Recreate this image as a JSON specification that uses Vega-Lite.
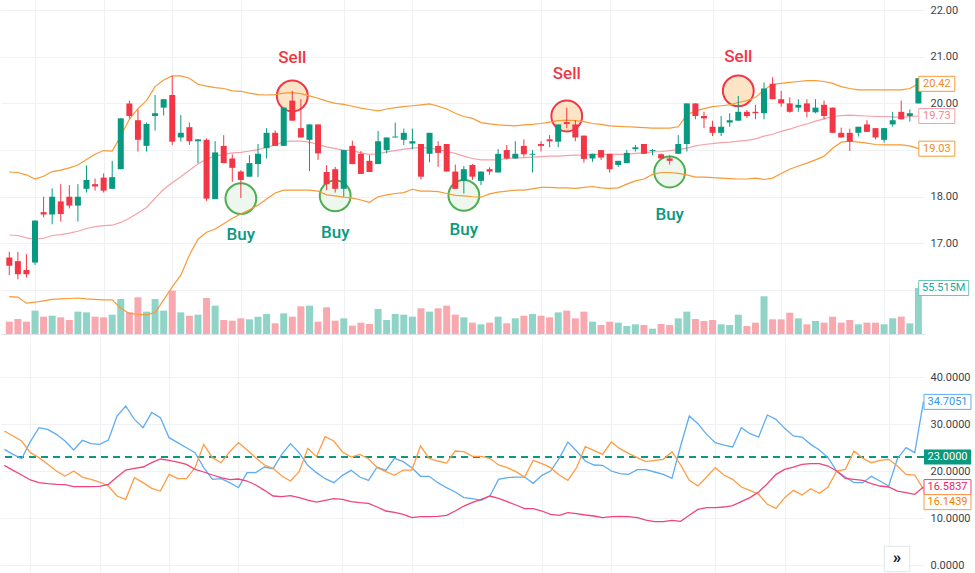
{
"$schema": "https://vega.github.io/schema/vega-lite/v6.json",
"padding": 0,
"background": "white",
"spacing": 3,
"datasets": {
"bars": [
{"i":0,"o":16.70,"h":16.82,"l":16.32,"c":16.52,"v":14.9,"ub":18.53,"mb":17.18,"lb":15.86,"pdi":24.61,"mdi":28.51,"adx":21.21},
{"i":1,"o":16.62,"h":16.82,"l":16.23,"c":16.34,"v":18.1,"ub":18.52,"mb":17.17,"lb":15.85,"pdi":23.55,"mdi":27.45,"adx":20.14},
{"i":2,"o":16.43,"h":16.77,"l":16.27,"c":16.34,"v":14.9,"ub":18.47,"mb":17.12,"lb":15.72,"pdi":22.62,"mdi":26.38,"adx":19.15},
{"i":3,"o":16.59,"h":17.49,"l":16.54,"c":17.49,"v":28.2,"ub":18.38,"mb":17.09,"lb":15.74,"pdi":26.24,"mdi":23.90,"adx":18.09},
{"i":4,"o":17.67,"h":18.00,"l":17.56,"c":17.62,"v":20.9,"ub":18.44,"mb":17.11,"lb":15.77,"pdi":29.22,"mdi":22.84,"adx":17.52},
{"i":5,"o":17.62,"h":18.18,"l":17.41,"c":18.00,"v":22.1,"ub":18.54,"mb":17.17,"lb":15.80,"pdi":28.87,"mdi":21.42,"adx":17.30},
{"i":6,"o":17.90,"h":18.27,"l":17.47,"c":17.63,"v":20.1,"ub":18.57,"mb":17.19,"lb":15.81,"pdi":27.80,"mdi":20.00,"adx":17.16},
{"i":7,"o":18.00,"h":18.25,"l":17.75,"c":17.81,"v":16.9,"ub":18.62,"mb":17.22,"lb":15.82,"pdi":26.38,"mdi":18.94,"adx":17.09},
{"i":8,"o":17.81,"h":18.27,"l":17.47,"c":18.00,"v":27.0,"ub":18.68,"mb":17.26,"lb":15.83,"pdi":24.47,"mdi":20.00,"adx":16.67},
{"i":9,"o":18.17,"h":18.67,"l":18.09,"c":18.36,"v":26.1,"ub":18.80,"mb":17.32,"lb":15.81,"pdi":26.52,"mdi":18.72,"adx":16.67},
{"i":10,"o":18.27,"h":18.39,"l":18.13,"c":18.22,"v":20.9,"ub":18.91,"mb":17.36,"lb":15.80,"pdi":25.82,"mdi":18.23,"adx":16.67},
{"i":11,"o":18.41,"h":18.50,"l":18.09,"c":18.13,"v":20.1,"ub":18.99,"mb":17.38,"lb":15.79,"pdi":25.67,"mdi":17.66,"adx":16.74},
{"i":12,"o":18.17,"h":18.77,"l":18.17,"c":18.42,"v":23.3,"ub":18.98,"mb":17.39,"lb":15.79,"pdi":26.60,"mdi":16.81,"adx":17.16},
{"i":13,"o":18.59,"h":19.68,"l":18.59,"c":19.68,"v":42.2,"ub":19.30,"mb":17.45,"lb":15.61,"pdi":31.70,"mdi":14.68,"adx":18.72},
{"i":14,"o":20.00,"h":20.06,"l":19.68,"c":19.73,"v":26.1,"ub":19.66,"mb":17.54,"lb":15.50,"pdi":33.83,"mdi":13.97,"adx":20.21},
{"i":15,"o":19.64,"h":19.87,"l":18.97,"c":19.22,"v":44.3,"ub":19.89,"mb":17.65,"lb":15.48,"pdi":30.99,"mdi":18.58,"adx":20.57},
{"i":16,"o":19.09,"h":19.59,"l":18.97,"c":19.56,"v":27.0,"ub":20.06,"mb":17.77,"lb":15.47,"pdi":29.22,"mdi":17.52,"adx":20.85},
{"i":17,"o":19.73,"h":20.18,"l":19.42,"c":19.79,"v":42.2,"ub":20.36,"mb":17.97,"lb":15.52,"pdi":32.48,"mdi":16.31,"adx":21.77},
{"i":18,"o":19.91,"h":20.09,"l":19.74,"c":20.09,"v":28.2,"ub":20.50,"mb":18.16,"lb":15.79,"pdi":31.35,"mdi":15.74,"adx":22.55},
{"i":19,"o":20.18,"h":20.59,"l":19.11,"c":19.18,"v":52.3,"ub":20.59,"mb":18.30,"lb":16.07,"pdi":27.09,"mdi":19.29,"adx":22.27},
{"i":20,"o":19.27,"h":19.75,"l":19.18,"c":19.37,"v":26.1,"ub":20.59,"mb":18.43,"lb":16.32,"pdi":26.03,"mdi":18.37,"adx":21.91},
{"i":21,"o":19.49,"h":19.59,"l":19.11,"c":19.19,"v":22.1,"ub":20.54,"mb":18.57,"lb":16.75,"pdi":24.96,"mdi":18.37,"adx":21.42},
{"i":22,"o":19.19,"h":19.23,"l":18.72,"c":19.23,"v":23.3,"ub":20.41,"mb":18.70,"lb":17.09,"pdi":23.90,"mdi":20.71,"adx":20.35},
{"i":23,"o":19.22,"h":19.25,"l":17.91,"c":17.96,"v":43.4,"ub":20.37,"mb":18.81,"lb":17.24,"pdi":20.71,"mdi":25.67,"adx":19.79},
{"i":24,"o":17.95,"h":19.19,"l":17.95,"c":18.95,"v":34.2,"ub":20.34,"mb":18.87,"lb":17.31,"pdi":18.23,"mdi":22.84,"adx":19.15},
{"i":25,"o":19.09,"h":19.32,"l":18.72,"c":18.72,"v":16.9,"ub":20.32,"mb":18.91,"lb":17.42,"pdi":18.37,"mdi":21.77,"adx":18.58},
{"i":26,"o":18.82,"h":18.91,"l":18.32,"c":18.62,"v":16.1,"ub":20.27,"mb":18.94,"lb":17.54,"pdi":17.52,"mdi":24.11,"adx":18.16},
{"i":27,"o":18.54,"h":18.57,"l":17.97,"c":18.36,"v":18.9,"ub":20.26,"mb":18.95,"lb":17.63,"pdi":16.45,"mdi":26.03,"adx":18.30},
{"i":28,"o":18.43,"h":18.89,"l":18.42,"c":18.72,"v":17.7,"ub":20.22,"mb":18.98,"lb":17.72,"pdi":19.65,"mdi":24.47,"adx":17.87},
{"i":29,"o":18.70,"h":19.13,"l":18.42,"c":18.92,"v":20.9,"ub":20.19,"mb":19.01,"lb":17.82,"pdi":19.65,"mdi":22.84,"adx":17.02},
{"i":30,"o":19.04,"h":19.47,"l":18.82,"c":19.37,"v":24.1,"ub":20.18,"mb":19.06,"lb":17.95,"pdi":20.85,"mdi":21.28,"adx":15.89},
{"i":31,"o":19.37,"h":19.42,"l":19.09,"c":19.09,"v":12.9,"ub":20.19,"mb":19.11,"lb":18.08,"pdi":20.50,"mdi":20.57,"adx":14.68},
{"i":32,"o":19.09,"h":19.91,"l":19.09,"c":19.91,"v":24.9,"ub":20.22,"mb":19.18,"lb":18.14,"pdi":23.55,"mdi":18.94,"adx":14.54},
{"i":33,"o":20.06,"h":20.27,"l":19.63,"c":19.63,"v":20.9,"ub":20.23,"mb":19.19,"lb":18.14,"pdi":25.82,"mdi":17.87,"adx":14.75},
{"i":34,"o":19.47,"h":20.09,"l":19.27,"c":19.27,"v":33.4,"ub":20.21,"mb":19.19,"lb":18.14,"pdi":23.90,"mdi":19.86,"adx":14.33},
{"i":35,"o":19.22,"h":19.55,"l":18.55,"c":19.55,"v":34.2,"ub":20.16,"mb":19.17,"lb":18.14,"pdi":21.21,"mdi":24.82,"adx":13.83},
{"i":36,"o":19.55,"h":19.55,"l":18.79,"c":18.93,"v":14.9,"ub":20.11,"mb":19.12,"lb":18.12,"pdi":19.65,"mdi":23.05,"adx":13.40},
{"i":37,"o":18.53,"h":18.68,"l":18.14,"c":18.27,"v":32.2,"ub":20.05,"mb":19.07,"lb":18.04,"pdi":18.37,"mdi":27.30,"adx":13.76},
{"i":38,"o":18.59,"h":18.64,"l":18.09,"c":18.17,"v":16.1,"ub":20.00,"mb":19.03,"lb":18.02,"pdi":17.52,"mdi":26.38,"adx":14.11},
{"i":39,"o":18.17,"h":19.00,"l":18.00,"c":19.00,"v":18.9,"ub":19.98,"mb":19.00,"lb":17.99,"pdi":19.08,"mdi":24.04,"adx":13.97},
{"i":40,"o":19.09,"h":19.20,"l":18.70,"c":18.70,"v":10.1,"ub":19.94,"mb":18.99,"lb":17.97,"pdi":20.14,"mdi":22.98,"adx":13.48},
{"i":41,"o":18.92,"h":18.98,"l":18.49,"c":18.49,"v":13.7,"ub":19.90,"mb":18.94,"lb":17.93,"pdi":18.72,"mdi":23.55,"adx":13.26},
{"i":42,"o":18.77,"h":18.89,"l":18.53,"c":18.53,"v":12.1,"ub":19.87,"mb":18.91,"lb":17.88,"pdi":18.01,"mdi":22.62,"adx":13.12},
{"i":43,"o":18.70,"h":19.41,"l":18.70,"c":19.19,"v":30.2,"ub":19.84,"mb":18.92,"lb":18.00,"pdi":20.85,"mdi":20.71,"adx":12.34},
{"i":44,"o":19.00,"h":19.27,"l":18.93,"c":19.27,"v":16.9,"ub":19.88,"mb":18.96,"lb":18.04,"pdi":20.14,"mdi":19.86,"adx":11.49},
{"i":45,"o":19.27,"h":19.59,"l":19.27,"c":19.29,"v":24.1,"ub":19.91,"mb":18.99,"lb":18.07,"pdi":22.70,"mdi":19.08,"adx":11.21},
{"i":46,"o":19.22,"h":19.46,"l":19.11,"c":19.37,"v":23.3,"ub":19.93,"mb":19.02,"lb":18.09,"pdi":21.99,"mdi":20.21,"adx":10.78},
{"i":47,"o":19.14,"h":19.46,"l":19.02,"c":19.19,"v":20.9,"ub":19.95,"mb":19.04,"lb":18.16,"pdi":20.71,"mdi":20.21,"adx":10.07},
{"i":48,"o":19.13,"h":19.13,"l":18.37,"c":18.43,"v":31.0,"ub":19.97,"mb":19.06,"lb":18.12,"pdi":18.87,"mdi":25.32,"adx":10.28},
{"i":49,"o":18.92,"h":19.37,"l":18.74,"c":19.37,"v":27.0,"ub":19.99,"mb":19.04,"lb":18.12,"pdi":18.87,"mdi":22.70,"adx":10.28},
{"i":50,"o":19.09,"h":19.19,"l":18.64,"c":18.94,"v":31.0,"ub":19.94,"mb":19.01,"lb":18.11,"pdi":17.52,"mdi":22.13,"adx":10.35},
{"i":51,"o":19.13,"h":19.13,"l":18.54,"c":18.54,"v":34.2,"ub":19.88,"mb":18.97,"lb":18.07,"pdi":16.45,"mdi":21.70,"adx":10.57},
{"i":52,"o":18.54,"h":18.69,"l":18.17,"c":18.17,"v":23.3,"ub":19.79,"mb":18.93,"lb":18.03,"pdi":15.53,"mdi":24.26,"adx":11.49},
{"i":53,"o":18.34,"h":18.66,"l":18.07,"c":18.59,"v":20.1,"ub":19.72,"mb":18.87,"lb":18.02,"pdi":14.33,"mdi":24.11,"adx":12.55},
{"i":54,"o":18.68,"h":18.70,"l":18.36,"c":18.43,"v":13.7,"ub":19.68,"mb":18.82,"lb":18.00,"pdi":14.11,"mdi":23.12,"adx":13.33},
{"i":55,"o":18.34,"h":18.54,"l":18.25,"c":18.54,"v":11.7,"ub":19.59,"mb":18.79,"lb":17.99,"pdi":13.76,"mdi":23.12,"adx":13.97},
{"i":56,"o":18.59,"h":18.63,"l":18.47,"c":18.54,"v":13.7,"ub":19.56,"mb":18.79,"lb":18.06,"pdi":14.68,"mdi":22.70,"adx":14.68},
{"i":57,"o":18.52,"h":19.02,"l":18.52,"c":18.92,"v":20.9,"ub":19.54,"mb":18.79,"lb":18.10,"pdi":18.23,"mdi":21.28,"adx":14.18},
{"i":58,"o":19.00,"h":19.11,"l":18.80,"c":18.82,"v":12.9,"ub":19.53,"mb":18.82,"lb":18.12,"pdi":18.58,"mdi":20.71,"adx":13.48},
{"i":59,"o":18.82,"h":19.19,"l":18.82,"c":18.92,"v":18.9,"ub":19.52,"mb":18.83,"lb":18.14,"pdi":18.72,"mdi":19.86,"adx":12.77},
{"i":60,"o":19.09,"h":19.23,"l":18.86,"c":18.91,"v":22.1,"ub":19.54,"mb":18.84,"lb":18.14,"pdi":18.72,"mdi":18.72,"adx":11.99},
{"i":61,"o":18.90,"h":19.00,"l":18.52,"c":18.92,"v":24.1,"ub":19.55,"mb":18.85,"lb":18.17,"pdi":17.38,"mdi":22.27,"adx":11.99},
{"i":62,"o":19.13,"h":19.19,"l":18.97,"c":19.09,"v":22.1,"ub":19.57,"mb":18.86,"lb":18.20,"pdi":19.08,"mdi":21.56,"adx":11.49},
{"i":63,"o":19.23,"h":19.32,"l":19.06,"c":19.19,"v":20.1,"ub":19.60,"mb":18.87,"lb":18.20,"pdi":20.00,"mdi":20.71,"adx":10.78},
{"i":64,"o":19.18,"h":19.55,"l":19.06,"c":19.55,"v":26.1,"ub":19.63,"mb":18.87,"lb":18.19,"pdi":22.70,"mdi":19.15,"adx":10.57},
{"i":65,"o":19.60,"h":19.91,"l":19.47,"c":19.56,"v":28.2,"ub":19.64,"mb":18.88,"lb":18.19,"pdi":26.17,"mdi":18.01,"adx":11.13},
{"i":66,"o":19.55,"h":19.64,"l":19.19,"c":19.27,"v":18.9,"ub":19.63,"mb":18.89,"lb":18.18,"pdi":24.26,"mdi":20.71,"adx":10.92},
{"i":67,"o":19.31,"h":19.31,"l":18.73,"c":18.81,"v":27.0,"ub":19.61,"mb":18.89,"lb":18.20,"pdi":22.13,"mdi":25.18,"adx":10.64},
{"i":68,"o":18.82,"h":18.92,"l":18.75,"c":18.92,"v":14.9,"ub":19.57,"mb":18.91,"lb":18.22,"pdi":21.28,"mdi":24.40,"adx":10.43},
{"i":69,"o":19.00,"h":19.00,"l":18.79,"c":18.84,"v":10.9,"ub":19.55,"mb":18.91,"lb":18.19,"pdi":21.21,"mdi":23.55,"adx":10.07},
{"i":70,"o":18.92,"h":18.92,"l":18.52,"c":18.59,"v":14.9,"ub":19.52,"mb":18.91,"lb":18.18,"pdi":20.00,"mdi":26.17,"adx":10.28},
{"i":71,"o":18.68,"h":18.77,"l":18.64,"c":18.77,"v":13.7,"ub":19.51,"mb":18.91,"lb":18.19,"pdi":19.43,"mdi":24.75,"adx":10.35},
{"i":72,"o":18.72,"h":19.00,"l":18.72,"c":18.94,"v":9.7,"ub":19.50,"mb":18.91,"lb":18.27,"pdi":19.29,"mdi":23.76,"adx":10.28},
{"i":73,"o":19.02,"h":19.11,"l":18.97,"c":19.06,"v":11.7,"ub":19.49,"mb":18.93,"lb":18.34,"pdi":20.28,"mdi":22.84,"adx":10.07},
{"i":74,"o":19.13,"h":19.13,"l":18.92,"c":18.92,"v":10.9,"ub":19.48,"mb":18.94,"lb":18.38,"pdi":20.28,"mdi":21.99,"adx":9.57},
{"i":75,"o":18.98,"h":19.02,"l":18.89,"c":19.00,"v":6.4,"ub":19.47,"mb":18.96,"lb":18.48,"pdi":19.79,"mdi":22.27,"adx":9.22},
{"i":76,"o":18.91,"h":18.93,"l":18.80,"c":18.82,"v":12.1,"ub":19.47,"mb":18.97,"lb":18.52,"pdi":19.29,"mdi":22.48,"adx":9.22},
{"i":77,"o":18.82,"h":18.89,"l":18.69,"c":18.77,"v":10.9,"ub":19.47,"mb":18.99,"lb":18.52,"pdi":18.44,"mdi":24.11,"adx":9.50},
{"i":78,"o":18.92,"h":19.32,"l":18.92,"c":19.13,"v":18.9,"ub":19.50,"mb":19.01,"lb":18.50,"pdi":25.32,"mdi":21.28,"adx":9.29},
{"i":79,"o":19.13,"h":20.00,"l":18.97,"c":20.00,"v":27.0,"ub":19.75,"mb":19.04,"lb":18.47,"pdi":31.70,"mdi":18.01,"adx":10.57},
{"i":80,"o":20.00,"h":20.00,"l":19.66,"c":19.73,"v":18.1,"ub":19.84,"mb":19.09,"lb":18.42,"pdi":30.07,"mdi":16.81,"adx":11.84},
{"i":81,"o":19.73,"h":19.82,"l":19.47,"c":19.68,"v":15.7,"ub":19.89,"mb":19.12,"lb":18.42,"pdi":27.80,"mdi":18.72,"adx":12.20},
{"i":82,"o":19.50,"h":19.63,"l":19.30,"c":19.37,"v":16.9,"ub":19.93,"mb":19.14,"lb":18.41,"pdi":26.03,"mdi":20.71,"adx":12.20},
{"i":83,"o":19.37,"h":19.73,"l":19.30,"c":19.50,"v":11.7,"ub":19.95,"mb":19.16,"lb":18.40,"pdi":25.53,"mdi":19.15,"adx":12.34},
{"i":84,"o":19.59,"h":19.79,"l":19.50,"c":19.64,"v":10.9,"ub":19.97,"mb":19.17,"lb":18.39,"pdi":25.11,"mdi":18.23,"adx":12.62},
{"i":85,"o":19.63,"h":20.16,"l":19.63,"c":19.82,"v":23.3,"ub":20.02,"mb":19.19,"lb":18.38,"pdi":29.22,"mdi":16.60,"adx":13.48},
{"i":86,"o":19.82,"h":19.86,"l":19.69,"c":19.73,"v":9.7,"ub":20.06,"mb":19.21,"lb":18.38,"pdi":27.94,"mdi":15.89,"adx":14.33},
{"i":87,"o":19.82,"h":19.97,"l":19.66,"c":19.79,"v":13.7,"ub":20.13,"mb":19.24,"lb":18.40,"pdi":27.23,"mdi":15.04,"adx":15.53},
{"i":88,"o":19.79,"h":20.45,"l":19.66,"c":20.32,"v":45.5,"ub":20.29,"mb":19.30,"lb":18.37,"pdi":31.91,"mdi":12.91,"adx":17.30},
{"i":89,"o":20.42,"h":20.56,"l":20.09,"c":20.09,"v":17.7,"ub":20.41,"mb":19.34,"lb":18.40,"pdi":30.99,"mdi":12.06,"adx":19.29},
{"i":90,"o":20.09,"h":20.27,"l":19.93,"c":20.00,"v":17.7,"ub":20.43,"mb":19.40,"lb":18.50,"pdi":29.08,"mdi":14.33,"adx":20.35},
{"i":91,"o":20.00,"h":20.13,"l":19.80,"c":19.82,"v":25.7,"ub":20.45,"mb":19.45,"lb":18.59,"pdi":27.45,"mdi":15.89,"adx":20.85},
{"i":92,"o":19.91,"h":20.09,"l":19.82,"c":19.97,"v":18.9,"ub":20.47,"mb":19.51,"lb":18.66,"pdi":27.23,"mdi":14.89,"adx":21.42},
{"i":93,"o":20.00,"h":20.09,"l":19.70,"c":19.82,"v":11.7,"ub":20.49,"mb":19.56,"lb":18.72,"pdi":25.67,"mdi":16.24,"adx":21.56},
{"i":94,"o":19.81,"h":20.09,"l":19.79,"c":19.91,"v":15.7,"ub":20.49,"mb":19.62,"lb":18.79,"pdi":24.47,"mdi":15.25,"adx":21.56},
{"i":95,"o":19.97,"h":20.06,"l":19.66,"c":19.73,"v":13.7,"ub":20.47,"mb":19.67,"lb":18.87,"pdi":22.84,"mdi":16.60,"adx":21.06},
{"i":96,"o":19.91,"h":19.91,"l":19.37,"c":19.37,"v":20.9,"ub":20.43,"mb":19.72,"lb":19.04,"pdi":20.00,"mdi":20.00,"adx":20.00},
{"i":97,"o":19.37,"h":19.48,"l":19.27,"c":19.27,"v":13.7,"ub":20.36,"mb":19.74,"lb":19.17,"pdi":18.72,"mdi":20.35,"adx":18.44},
{"i":98,"o":19.37,"h":19.46,"l":18.98,"c":19.18,"v":16.9,"ub":20.32,"mb":19.75,"lb":19.19,"pdi":17.52,"mdi":24.26,"adx":18.23},
{"i":99,"o":19.37,"h":19.50,"l":19.29,"c":19.50,"v":11.7,"ub":20.29,"mb":19.74,"lb":19.17,"pdi":17.52,"mdi":22.70,"adx":18.01},
{"i":100,"o":19.55,"h":19.64,"l":19.39,"c":19.39,"v":13.7,"ub":20.29,"mb":19.73,"lb":19.15,"pdi":18.87,"mdi":21.77,"adx":17.30},
{"i":101,"o":19.47,"h":19.47,"l":19.23,"c":19.27,"v":13.7,"ub":20.29,"mb":19.72,"lb":19.12,"pdi":17.87,"mdi":22.27,"adx":16.81},
{"i":102,"o":19.22,"h":19.47,"l":19.16,"c":19.47,"v":11.7,"ub":20.29,"mb":19.72,"lb":19.11,"pdi":16.81,"mdi":22.48,"adx":16.60},
{"i":103,"o":19.55,"h":19.82,"l":19.50,"c":19.64,"v":18.9,"ub":20.29,"mb":19.71,"lb":19.11,"pdi":22.62,"mdi":21.06,"adx":15.74},
{"i":104,"o":19.82,"h":20.06,"l":19.66,"c":19.66,"v":20.9,"ub":20.29,"mb":19.70,"lb":19.11,"pdi":24.96,"mdi":19.29,"adx":15.39},
{"i":105,"o":19.73,"h":19.87,"l":19.61,"c":19.79,"v":12.9,"ub":20.32,"mb":19.72,"lb":19.09,"pdi":23.90,"mdi":19.15,"adx":15.04},
{"i":106,"o":20.00,"h":20.54,"l":20.00,"c":20.54,"v":55.515,"ub":20.42,"mb":19.73,"lb":19.03,"pdi":34.7051,"mdi":16.1439,"adx":16.5837}
],
"marks": [
{"t":"Sell","i":33,"p":20.16,"tp":20.97},
{"t":"Sell","i":65,"p":19.73,"tp":20.64},
{"t":"Sell","i":85,"p":20.27,"tp":21.00},
{"t":"Buy","i":27,"p":17.96,"tp":17.18},
{"t":"Buy","i":38,"p":18.02,"tp":17.23},
{"t":"Buy","i":53,"p":18.03,"tp":17.28},
{"t":"Buy","i":77,"p":18.53,"tp":17.60}
],
"plabels": [
{"s":"upper","p":20.42},
{"s":"middle","p":19.73},
{"s":"lower","p":19.03}
],
"vlabels": [{"v":55.515,"txt":"55.515M"}],
"dlabels": [
{"s":"pdi","v":34.7051},
{"s":"adx","v":16.5837},
{"s":"mdi","v":16.1439}
],
"levels": [{"level":23}]
},
"vconcat": [
{
"width": 923,
"height": 334,
"data": {"name": "bars"},
"layer": [
{
"layer": [
{
"mark": {"type": "bar", "width": 7, "orient": "vertical"},
"encoding": {
"x": {"field": "i", "type": "quantitative", "title": null, "scale": {"domain": [-0.384, 106.07], "nice": false, "zero": false}, "axis": {"values": [3,11,19,27,39,47,62,70,82,90,102], "grid": true, "labels": false, "domain": true, "domainColor": "#e0e3eb", "domainWidth": 1, "orient": "bottom"}},
"y": {"field": "v", "type": "quantitative", "scale": {"domain": [0, 403], "nice": false}, "axis": null},
"color": {"condition": {"test": "datum.c >= datum.o", "value": "#8fd4c6"}, "value": "#f8a9b0"}
}
},
{
"data": {"name": "vlabels"},
"mark": {"type": "point", "shape": "M-1,-0.3H1V0.3H-1Z", "size": 2500, "filled": true, "fill": "white", "stroke": "#6cc7b6", "strokeWidth": 1, "opacity": 1},
"encoding": {
"x": {"datum": 108.95, "type": "quantitative", "title": null, "scale": {"domain": [-0.384, 106.07], "nice": false, "zero": false}},
"y": {"field": "v", "type": "quantitative", "scale": {"domain": [0, 403], "nice": false}, "axis": null}
}
},
{
"data": {"name": "vlabels"},
"mark": {"type": "text", "font": "Roboto", "fontSize": 11, "color": "#26a69a", "align": "center", "baseline": "middle"},
"encoding": {
"x": {"datum": 108.95, "type": "quantitative", "title": null, "scale": {"domain": [-0.384, 106.07], "nice": false, "zero": false}},
"y": {"field": "v", "type": "quantitative", "scale": {"domain": [0, 403], "nice": false}, "axis": null},
"text": {"field": "txt"}
}
}
]
},
{
"layer": [
{
"data": {"name": "marks"},
"mark": {"type": "point", "shape": "circle", "size": 950, "filled": true, "strokeWidth": 2, "opacity": 1},
"encoding": {
"x": {"field": "i", "type": "quantitative", "title": null, "scale": {"domain": [-0.384, 106.07], "nice": false, "zero": false}},
"y": {"field": "p", "type": "quantitative", "title": null, "scale": {"domain": [15.059, 22.216], "nice": false, "zero": false}, "axis": {"orient": "right", "values": [16,17,18,19,20,21,22], "grid": true, "labelExpr": "datum.value == 19 || datum.value == 16 ? '' : format(datum.value, '.2f')", "labelPadding": 6}},
"fill": {"condition": {"test": "datum.t == 'Sell'", "value": "#fde4c6"}, "value": "#eef7ee"},
"stroke": {"condition": {"test": "datum.t == 'Sell'", "value": "#f23645"}, "value": "#4caf50"}
}
},
{
"mark": {"type": "line", "color": "#f89a35", "strokeWidth": 1.2},
"encoding": {
"x": {"field": "i", "type": "quantitative", "title": null, "scale": {"domain": [-0.384, 106.07], "nice": false, "zero": false}},
"y": {"field": "ub", "type": "quantitative", "title": null, "scale": {"domain": [15.059, 22.216], "nice": false, "zero": false}}
}
},
{
"mark": {"type": "line", "color": "#f89a35", "strokeWidth": 1.2},
"encoding": {
"x": {"field": "i", "type": "quantitative", "title": null, "scale": {"domain": [-0.384, 106.07], "nice": false, "zero": false}},
"y": {"field": "lb", "type": "quantitative", "title": null, "scale": {"domain": [15.059, 22.216], "nice": false, "zero": false}}
}
},
{
"mark": {"type": "line", "color": "#f7a1a6", "strokeWidth": 1.2},
"encoding": {
"x": {"field": "i", "type": "quantitative", "title": null, "scale": {"domain": [-0.384, 106.07], "nice": false, "zero": false}},
"y": {"field": "mb", "type": "quantitative", "title": null, "scale": {"domain": [15.059, 22.216], "nice": false, "zero": false}}
}
},
{
"mark": {"type": "rule", "strokeWidth": 1, "clip": true},
"encoding": {
"x": {"field": "i", "type": "quantitative", "title": null, "scale": {"domain": [-0.384, 106.07], "nice": false, "zero": false}},
"y": {"field": "l", "type": "quantitative", "title": null, "scale": {"domain": [15.059, 22.216], "nice": false, "zero": false}},
"y2": {"field": "h"},
"color": {"condition": {"test": "datum.c >= datum.o", "value": "#089981"}, "value": "#f23645"}
}
},
{
"mark": {"type": "bar", "width": 6, "orient": "vertical", "clip": true},
"encoding": {
"x": {"field": "i", "type": "quantitative", "title": null, "scale": {"domain": [-0.384, 106.07], "nice": false, "zero": false}},
"y": {"field": "o", "type": "quantitative", "title": null, "scale": {"domain": [15.059, 22.216], "nice": false, "zero": false}},
"y2": {"field": "c"},
"color": {"condition": {"test": "datum.c >= datum.o", "value": "#089981"}, "value": "#f23645"}
}
},
{
"data": {"name": "marks"},
"mark": {"type": "text", "font": "Roboto", "fontSize": 17, "fontWeight": 500, "align": "center", "baseline": "middle"},
"encoding": {
"x": {"field": "i", "type": "quantitative", "title": null, "scale": {"domain": [-0.384, 106.07], "nice": false, "zero": false}},
"y": {"field": "tp", "type": "quantitative", "title": null, "scale": {"domain": [15.059, 22.216], "nice": false, "zero": false}},
"text": {"field": "t"},
"color": {"condition": {"test": "datum.t == 'Sell'", "value": "#f23645"}, "value": "#089981"}
}
},
{
"data": {"name": "plabels"},
"mark": {"type": "point", "shape": "M-1,-0.4167H1V0.4167H-1Z", "size": 1296, "filled": true, "fill": "white", "strokeWidth": 1, "opacity": 1},
"encoding": {
"x": {"datum": 108.15, "type": "quantitative", "title": null, "scale": {"domain": [-0.384, 106.07], "nice": false, "zero": false}},
"y": {"field": "p", "type": "quantitative", "title": null, "scale": {"domain": [15.059, 22.216], "nice": false, "zero": false}},
"stroke": {"field": "s", "type": "nominal", "scale": {"domain": ["upper","middle","lower"], "range": ["#f89a35","#f7a1a6","#f89a35"]}, "legend": null}
}
},
{
"data": {"name": "plabels"},
"mark": {"type": "text", "font": "Roboto", "fontSize": 11, "align": "center", "baseline": "middle"},
"encoding": {
"x": {"datum": 108.15, "type": "quantitative", "title": null, "scale": {"domain": [-0.384, 106.07], "nice": false, "zero": false}},
"y": {"field": "p", "type": "quantitative", "title": null, "scale": {"domain": [15.059, 22.216], "nice": false, "zero": false}},
"text": {"field": "p", "format": ".2f"},
"color": {"field": "s", "type": "nominal", "scale": {"domain": ["upper","middle","lower"], "range": ["#f08a1f","#f2868d","#f08a1f"]}, "legend": null}
}
}
]
}
],
"resolve": {"scale": {"y": "independent", "color": "independent", "stroke": "independent"}}
},
{
"width": 923,
"height": 237,
"data": {"name": "bars"},
"layer": [
{
"data": {"name": "levels"},
"mark": {"type": "rule", "color": "#089981", "strokeWidth": 2, "strokeDash": [7, 5]},
"encoding": {
"y": {"field": "level", "type": "quantitative", "title": null, "scale": {"domain": [-1.91, 48.51], "nice": false, "zero": false}, "axis": {"orient": "right", "values": [0,10,20,30,40], "format": ".4f", "grid": true, "labelPadding": 6}}
}
},
{
"mark": {"type": "line", "color": "#5eadf2", "strokeWidth": 1.3},
"encoding": {
"x": {"field": "i", "type": "quantitative", "title": null, "scale": {"domain": [-0.384, 106.07], "nice": false, "zero": false}, "axis": {"values": [3,11,19,27,39,47,62,70,82,90,102], "grid": true, "labels": false, "domain": false}},
"y": {"field": "pdi", "type": "quantitative", "title": null, "scale": {"domain": [-1.91, 48.51], "nice": false, "zero": false}}
}
},
{
"mark": {"type": "line", "color": "#ff9c45", "strokeWidth": 1.3},
"encoding": {
"x": {"field": "i", "type": "quantitative", "title": null, "scale": {"domain": [-0.384, 106.07], "nice": false, "zero": false}},
"y": {"field": "mdi", "type": "quantitative", "title": null, "scale": {"domain": [-1.91, 48.51], "nice": false, "zero": false}}
}
},
{
"mark": {"type": "line", "color": "#f0457a", "strokeWidth": 1.3},
"encoding": {
"x": {"field": "i", "type": "quantitative", "title": null, "scale": {"domain": [-0.384, 106.07], "nice": false, "zero": false}},
"y": {"field": "adx", "type": "quantitative", "title": null, "scale": {"domain": [-1.91, 48.51], "nice": false, "zero": false}}
}
},
{
"data": {"name": "levels"},
"mark": {"type": "point", "shape": "M-1,-0.319H1V0.319H-1Z", "size": 2209, "filled": true, "fill": "#089981", "opacity": 1},
"encoding": {
"x": {"datum": 108.78, "type": "quantitative", "title": null, "scale": {"domain": [-0.384, 106.07], "nice": false, "zero": false}},
"y": {"field": "level", "type": "quantitative", "title": null, "scale": {"domain": [-1.91, 48.51], "nice": false, "zero": false}}
}
},
{
"data": {"name": "levels"},
"mark": {"type": "text", "font": "Roboto", "fontSize": 11, "color": "white", "align": "center", "baseline": "middle"},
"encoding": {
"x": {"datum": 108.78, "type": "quantitative", "title": null, "scale": {"domain": [-0.384, 106.07], "nice": false, "zero": false}},
"y": {"field": "level", "type": "quantitative", "title": null, "scale": {"domain": [-1.91, 48.51], "nice": false, "zero": false}},
"text": {"field": "level", "format": ".4f"}
}
},
{
"data": {"name": "dlabels"},
"transform": [{"filter": "datum.s != 'mdi'"}],
"mark": {"type": "point", "shape": "M-1,-0.319H1V0.319H-1Z", "size": 2209, "filled": true, "fill": "white", "strokeWidth": 1, "opacity": 1},
"encoding": {
"x": {"datum": 108.78, "type": "quantitative", "title": null, "scale": {"domain": [-0.384, 106.07], "nice": false, "zero": false}},
"y": {"field": "v", "type": "quantitative", "title": null, "scale": {"domain": [-1.91, 48.51], "nice": false, "zero": false}},
"stroke": {"field": "s", "type": "nominal", "scale": {"domain": ["pdi","adx","mdi"], "range": ["#5eadf2","#f0457a","#ff9c45"]}, "legend": null}
}
},
{
"data": {"name": "dlabels"},
"transform": [{"filter": "datum.s != 'mdi'"}],
"mark": {"type": "text", "font": "Roboto", "fontSize": 11, "align": "center", "baseline": "middle"},
"encoding": {
"x": {"datum": 108.78, "type": "quantitative", "title": null, "scale": {"domain": [-0.384, 106.07], "nice": false, "zero": false}},
"y": {"field": "v", "type": "quantitative", "title": null, "scale": {"domain": [-1.91, 48.51], "nice": false, "zero": false}},
"text": {"field": "v", "format": ".4f"},
"color": {"field": "s", "type": "nominal", "scale": {"domain": ["pdi","adx","mdi"], "range": ["#2f96ee","#e91e63","#f57c00"]}, "legend": null}
}
},
{
"data": {"name": "dlabels"},
"transform": [{"filter": "datum.s == 'mdi'"}],
"mark": {"type": "point", "shape": "M-1,-0.319H1V0.319H-1Z", "size": 2209, "filled": true, "fill": "white", "strokeWidth": 1, "opacity": 1, "yOffset": 13},
"encoding": {
"x": {"datum": 108.78, "type": "quantitative", "title": null, "scale": {"domain": [-0.384, 106.07], "nice": false, "zero": false}},
"y": {"field": "v", "type": "quantitative", "title": null, "scale": {"domain": [-1.91, 48.51], "nice": false, "zero": false}},
"stroke": {"field": "s", "type": "nominal", "scale": {"domain": ["pdi","adx","mdi"], "range": ["#5eadf2","#f0457a","#ff9c45"]}, "legend": null}
}
},
{
"data": {"name": "dlabels"},
"transform": [{"filter": "datum.s == 'mdi'"}],
"mark": {"type": "text", "font": "Roboto", "fontSize": 11, "align": "center", "baseline": "middle", "yOffset": 13},
"encoding": {
"x": {"datum": 108.78, "type": "quantitative", "title": null, "scale": {"domain": [-0.384, 106.07], "nice": false, "zero": false}},
"y": {"field": "v", "type": "quantitative", "title": null, "scale": {"domain": [-1.91, 48.51], "nice": false, "zero": false}},
"text": {"field": "v", "format": ".4f"},
"color": {"field": "s", "type": "nominal", "scale": {"domain": ["pdi","adx","mdi"], "range": ["#2f96ee","#e91e63","#f57c00"]}, "legend": null}
}
},
{
"data": {"values": [{"label": "»"}]},
"mark": {"type": "point", "shape": "square", "size": 650, "filled": true, "fill": "white", "stroke": "#e0e3eb", "strokeWidth": 1, "opacity": 1},
"encoding": {
"x": {"datum": 102.96, "type": "quantitative", "title": null, "scale": {"domain": [-0.384, 106.07], "nice": false, "zero": false}},
"y": {"datum": 1.28, "type": "quantitative", "title": null, "scale": {"domain": [-1.91, 48.51], "nice": false, "zero": false}}
}
},
{
"data": {"values": [{"label": "»"}]},
"mark": {"type": "text", "font": "Roboto", "fontSize": 17, "fontWeight": "bold", "color": "#131722", "align": "center", "baseline": "middle", "dy": -1},
"encoding": {
"x": {"datum": 102.96, "type": "quantitative", "title": null, "scale": {"domain": [-0.384, 106.07], "nice": false, "zero": false}},
"y": {"datum": 1.28, "type": "quantitative", "title": null, "scale": {"domain": [-1.91, 48.51], "nice": false, "zero": false}},
"text": {"field": "label"}
}
}
],
"resolve": {"scale": {"color": "independent", "stroke": "independent"}}
}
],
"config": {
"view": {"stroke": null},
"axis": {"gridColor": "#eff1f5", "gridWidth": 1, "labelFont": "Roboto", "labelFontSize": 11, "labelColor": "#3c3f4a", "domain": false, "ticks": false}
}
}
